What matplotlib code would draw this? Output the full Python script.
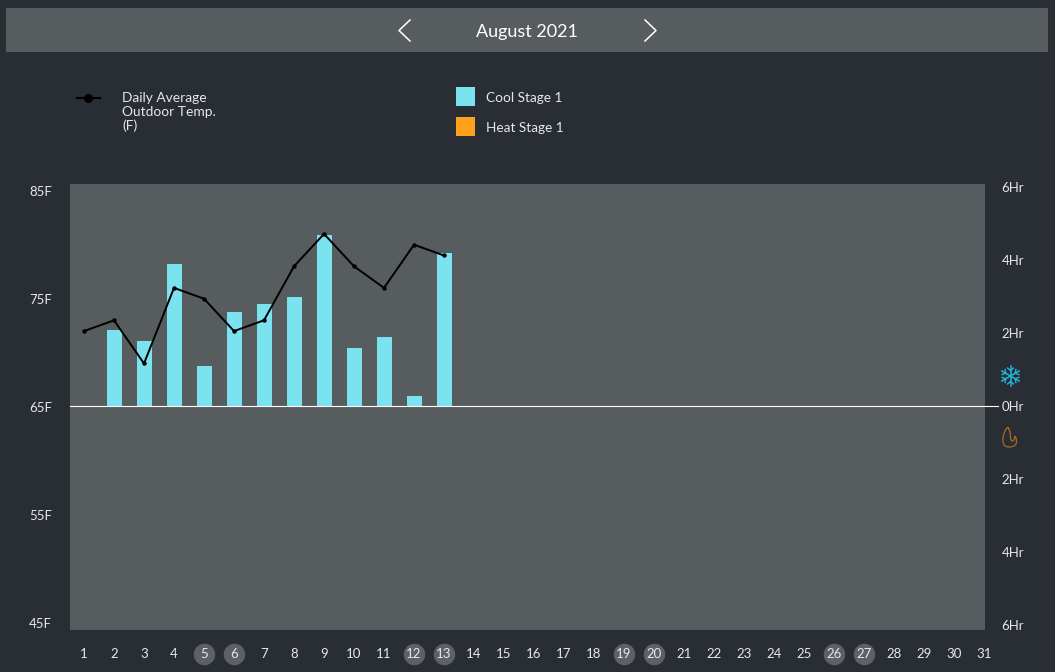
import math
import matplotlib
matplotlib.use("Agg")
import matplotlib.pyplot as plt
from matplotlib.patches import Rectangle, PathPatch
from matplotlib.path import Path
from matplotlib.lines import Line2D
from matplotlib.transforms import blended_transform_factory

W, H = 1055, 672
BG = "#292d34"
PANEL = "#575c5f"
TXT = "#e6e7e8"
COOL = "#7be2ef"
HEAT = "#ff9f1a"

title = "August 2021"
days = list(range(1, 32))
weekend_days = [5, 6, 12, 13, 19, 20, 26, 27]
temp_days = list(range(1, 14))
temps = [72, 73, 69, 76, 75, 72, 73, 78, 81, 78, 76, 80, 79]
cool_days = list(range(2, 14))
cool_hours = [2.08, 1.78, 3.89, 1.10, 2.58, 2.79, 2.99, 4.68, 1.59, 1.89, 0.27, 4.19]
temp_ticks = [45, 55, 65, 75, 85]
temp_labels = ["45F", "55F", "65F", "75F", "85F"]
hour_ticks = [-6, -4, -2, 0, 2, 4, 6]
hour_labels = ["6Hr", "4Hr", "2Hr", "0Hr", "2Hr", "4Hr", "6Hr"]

plt.rcParams["font.family"] = ["Lato", "DejaVu Sans"]
fig = plt.figure(figsize=(W / 100, H / 100), dpi=100, facecolor=BG)


def fx(x):
    return x / W


def fy(y):
    return 1 - y / H


def frect(x0, y0, x1, y1, color):
    fig.add_artist(Rectangle((fx(x0), fy(y1)), fx(x1) - fx(x0), fy(y0) - fy(y1),
                             transform=fig.transFigure, facecolor=color, edgecolor="none"))


def fline(xs, ys, **kw):
    fig.add_artist(Line2D([fx(a) for a in xs], [fy(b) for b in ys],
                          transform=fig.transFigure, **kw))


# header band
frect(6, 8, 1048, 52, PANEL)
fig.text(fx(527), fy(31.5), title, color="white", fontsize=13, ha="center", va="center")
fline([410, 399, 410], [20, 30.5, 41], color="white", lw=1.1)
fline([645, 656, 645], [20, 30.5, 41], color="white", lw=1.1)

# main axes: temperature line on top, run-time bars beneath
ax = fig.add_axes([fx(70), fy(630), fx(985) - fx(70), fy(184) - fy(630)])
ax.set_xlim(0.533, 31.033)
ax.set_ylim(65 - 223.3 / 10.8, 65 + 222.7 / 10.8)
for s in ax.spines.values():
    s.set_visible(False)
ax.set_xticks(days)
ax.set_xticklabels([str(d) for d in days], color=TXT, fontsize=9.5)
ax.tick_params(axis="x", length=0, pad=13)
ax.set_yticks(temp_ticks)
ax.set_yticklabels(temp_labels, color=TXT, fontsize=9.5)
ax.tick_params(axis="y", length=0, pad=13)

ax2 = ax.twinx()
ax2.set_ylim(-224 / 36.5, 222 / 36.5)
for s in ax2.spines.values():
    s.set_visible(False)
ax2.set_yticks(hour_ticks)
ax2.set_yticklabels(hour_labels, color=TXT, fontsize=9.5)
ax2.tick_params(axis="y", length=0, pad=12)
ax2.patch.set_visible(True)
ax2.set_facecolor(PANEL)
ax2.set_zorder(1)
ax.set_zorder(2)
ax.patch.set_visible(False)

ax2.bar(cool_days, cool_hours, width=0.5, color=COOL, zorder=2)
ax2.plot([0.533, 31.47], [0, 0], color="white", lw=0.8, zorder=3, clip_on=False)
ax.plot(temp_days, temps, color="black", lw=1.4, marker="o", ms=2.2, zorder=4)

# weekend day circles
tr = blended_transform_factory(ax.transData, fig.transFigure)
ax.scatter(weekend_days, [fy(653.5)] * len(weekend_days), s=(21.5 * 0.72) ** 2,
           color="#5d6165", transform=tr, clip_on=False, zorder=1, linewidths=0)

# legend
fline([77, 100], [98, 98], color="black", lw=1.5)
fline([88], [98], color="black", marker="o", ms=5.5)
for y, s in zip((98, 111.5, 125.5), ("Daily Average", "Outdoor Temp.", "(F)")):
    fig.text(fx(122), fy(y), s, color=TXT, fontsize=9.9, ha="left", va="center")
frect(456, 87, 475, 106, COOL)
frect(456, 117, 475, 136, HEAT)
fig.text(fx(486.5), fy(98), "Cool Stage 1", color=TXT, fontsize=9.8, ha="left", va="center")
fig.text(fx(486.5), fy(128), "Heat Stage 1", color=TXT, fontsize=9.8, ha="left", va="center")

# snowflake icon
SNOW = "#1fb6dc"
cx, cy = 1010.5, 376
for deg in (90, 30, 150, 270, 210, 330):
    a = math.radians(deg)
    ux, uy = math.cos(a), -math.sin(a)
    fline([cx, cx + 10 * ux], [cy, cy + 10 * uy], color=SNOW, lw=1.1)
    for side in (-1, 1):
        b = a + side * math.radians(50)
        px, py = cx + 5.5 * ux, cy + 5.5 * uy
        fline([px, px + 3.8 * math.cos(b)], [py, py - 3.8 * math.sin(b)], color=SNOW, lw=1.0)

# flame icon
flame = [(1008, 427), (1004, 431), (1004, 434), (1002.5, 437), (1003, 441), (1003, 447), (1009, 447),
         (1017, 447), (1016.5, 441), (1016.5, 438), (1015, 436), (1015, 440), (1012.5, 441),
         (1009.5, 440), (1010.5, 434), (1009.5, 430), (1008, 427)]
codes = [Path.MOVETO] + [Path.CURVE3] * (len(flame) - 1)
fig.add_artist(PathPatch(Path([(fx(a), fy(b)) for a, b in flame], codes),
                         transform=fig.transFigure, facecolor="none", edgecolor="#a86c1e", lw=0.9))

fig.savefig("out.png", dpi=100, facecolor=BG)
